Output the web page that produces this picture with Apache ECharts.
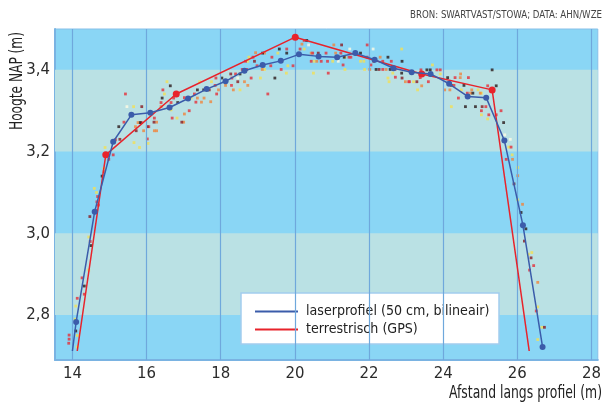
<!DOCTYPE html>
<html>
<head>
<meta charset="utf-8">
<script src="https://cdn.jsdelivr.net/npm/echarts@6/dist/echarts.min.js"></script>
<style>
html,body{margin:0;padding:0;background:#fff;}
#chart{width:604px;height:403px;}
</style>
</head>
<body>
<div id="chart"></div>
<script>
// ---- data ----
const xTicks = [14, 16, 18, 20, 22, 24, 26, 28];
const yTicks = [2.8, 3.0, 3.2, 3.4];
const paleBands = [[2.8, 3.0], [3.2, 3.4]];

const laserName = 'laserprofiel (50 cm, bilineair)';
const gpsName = 'terrestrisch (GPS)';
const sourceText = 'BRON: SWARTVAST/STOWA; DATA: AHN/WZE';
const yTitle = 'Hoogte NAP (m)';
const xTitle = 'Afstand langs profiel (m)';

// laser profile (blue), first point is the line start without a marker
const laser = [
  [14.0, 2.712], [14.1, 2.783], [14.6, 3.053], [15.1, 3.224], [15.59, 3.29], [16.1, 3.295],
  [16.62, 3.308], [17.12, 3.33], [17.62, 3.353], [18.13, 3.372], [18.64, 3.398], [19.13, 3.412],
  [19.62, 3.422], [20.11, 3.438], [20.64, 3.433], [21.14, 3.431], [21.63, 3.441], [22.15, 3.425],
  [22.66, 3.404], [23.15, 3.394], [23.66, 3.39], [24.16, 3.366], [24.66, 3.335], [25.16, 3.332],
  [25.65, 3.227], [26.15, 3.02], [26.68, 2.722]
];
// terrestrial GPS (red), first and last points are line ends without markers
const gps = [
  [14.13, 2.712], [14.9, 3.192], [16.8, 3.341], [20.01, 3.48], [23.42, 3.39], [25.32, 3.351], [26.32, 2.712]
];

// raw laser points by colour
const ptsBlack = [
  [14.09, 2.761], [14.32, 2.871], [14.5, 2.97], [14.8, 3.14], [14.96, 3.192], [15.25, 3.261],
  [15.83, 3.271], [16.42, 3.331], [16.64, 3.361], [16.84, 3.32], [17.37, 3.351], [17.54, 3.351],
  [18.03, 3.38], [18.52, 3.39], [19.16, 3.41], [19.13, 3.441], [19.58, 3.451], [19.78, 3.441],
  [19.46, 3.38], [20.32, 3.472], [21.63, 3.441], [21.77, 3.441], [21.33, 3.431], [22.51, 3.431],
  [22.89, 3.421], [22.19, 3.401], [22.57, 3.401], [22.88, 3.392], [23.56, 3.4], [23.65, 3.4],
  [25.32, 3.4], [24.12, 3.381], [24.56, 3.362], [25.43, 3.361], [24.8, 3.343], [24.6, 3.31],
  [24.87, 3.31], [25.63, 3.271], [26.1, 3.051], [26.23, 3.011]
];
const ptsDarkRed = [
  [14.47, 3.041], [15.28, 3.23], [15.87, 3.31], [15.72, 3.251], [16.02, 3.261], [16.2, 3.272],
  [16.95, 3.272], [17.69, 3.351], [18.27, 3.39], [18.46, 3.371], [18.91, 3.421], [21.26, 3.461],
  [20.63, 3.441], [22.13, 3.421], [22.27, 3.401], [22.89, 3.38], [23.29, 3.371], [24.22, 3.362],
  [25.05, 3.31], [25.91, 3.121], [26.19, 2.981], [26.37, 2.94], [26.73, 2.77]
];
const ptsRed = [
  [13.91, 2.751], [13.91, 2.741], [13.9, 2.731], [14.13, 2.841], [14.32, 2.851], [14.26, 2.891],
  [14.48, 2.98], [14.63, 3.055], [14.7, 3.069], [14.66, 3.077], [14.68, 3.09], [14.98, 3.181],
  [15.1, 3.192], [15.43, 3.341], [15.39, 3.272], [15.16, 3.229], [15.86, 3.271], [16.06, 3.261],
  [16.02, 3.231], [16.21, 3.282], [16.44, 3.351], [16.39, 3.32], [16.66, 3.32], [16.73, 3.331],
  [17.02, 3.332], [17.33, 3.321], [16.69, 3.282], [17.15, 3.3], [17.29, 3.341], [18.87, 3.431],
  [18.67, 3.421], [19.38, 3.431], [19.78, 3.451], [19.95, 3.41], [19.63, 3.401], [19.35, 3.41],
  [18.98, 3.41], [18.82, 3.38], [18.7, 3.401], [18.58, 3.401], [18.4, 3.39], [19.27, 3.341],
  [17.87, 3.38], [18.3, 3.38], [18.29, 3.362], [17.85, 3.362], [17.89, 3.341], [20.14, 3.451],
  [20.25, 3.472], [20.48, 3.441], [20.84, 3.441], [21.24, 3.441], [21.46, 3.431], [21.51, 3.431],
  [20.44, 3.421], [20.71, 3.421], [20.88, 3.421], [21.95, 3.431], [21.95, 3.461], [22.05, 3.412],
  [22.37, 3.421], [22.6, 3.421], [21.3, 3.412], [22.37, 3.401], [22.7, 3.401], [20.9, 3.392],
  [22.71, 3.382], [23.07, 3.371], [23.4, 3.4], [23.83, 3.4], [23.92, 3.4], [23.09, 3.371],
  [23.38, 3.381], [23.6, 3.371], [24.32, 3.381], [24.68, 3.381], [24.29, 3.362], [25.2, 3.361],
  [24.65, 3.343], [24.41, 3.331], [25.15, 3.31], [25.03, 3.3], [25.23, 3.29], [25.43, 3.29],
  [25.56, 3.3], [25.83, 3.211], [25.7, 3.181], [26.44, 2.921], [26.33, 2.91], [26.51, 2.81]
];
const ptsOrange = [
  [14.85, 3.151], [15.7, 3.261], [15.77, 3.271], [15.92, 3.251], [16.27, 3.272], [16.21, 3.251],
  [16.27, 3.251], [16.39, 3.31], [17.48, 3.321], [17.0, 3.272], [17.02, 3.292], [17.37, 3.331],
  [18.94, 3.442], [19.18, 3.441], [19.12, 3.401], [18.13, 3.362], [17.94, 3.351], [18.34, 3.351],
  [18.64, 3.371], [18.73, 3.362], [17.55, 3.331], [17.73, 3.322], [20.19, 3.463], [21.05, 3.461],
  [20.44, 3.441], [21.1, 3.441], [20.59, 3.421], [22.3, 3.431], [22.02, 3.401], [22.46, 3.401],
  [22.98, 3.371], [24.47, 3.39], [24.46, 3.381], [23.42, 3.361], [24.04, 3.351], [24.18, 3.351],
  [24.77, 3.351], [24.74, 3.343], [25.0, 3.343], [25.87, 3.181], [26.01, 3.141], [26.14, 3.071],
  [26.55, 2.88]
];
const ptsYellow = [
  [14.13, 2.722], [14.13, 2.75], [14.07, 2.79], [14.09, 2.822], [14.44, 2.91], [14.44, 2.991],
  [14.65, 3.1], [14.59, 3.11], [14.85, 3.159], [14.88, 3.21], [15.66, 3.222], [15.81, 3.21],
  [16.04, 3.22], [15.65, 3.31], [16.55, 3.371], [16.48, 3.341], [17.2, 3.331], [16.66, 3.302],
  [16.82, 3.282], [17.43, 3.371], [18.76, 3.431], [18.73, 3.421], [19.54, 3.441], [19.65, 3.421],
  [19.81, 3.41], [19.77, 3.392], [19.18, 3.401], [19.07, 3.38], [17.75, 3.371], [17.64, 3.351],
  [18.52, 3.351], [20.25, 3.451], [22.88, 3.451], [21.35, 3.431], [20.52, 3.421], [21.02, 3.421],
  [21.77, 3.421], [21.86, 3.421], [21.35, 3.401], [21.88, 3.401], [20.5, 3.392], [22.64, 3.392],
  [22.51, 3.38], [22.54, 3.371], [23.71, 3.412], [23.92, 3.39], [23.2, 3.371], [23.31, 3.351],
  [24.49, 3.351], [24.94, 3.351], [25.03, 3.343], [24.22, 3.31], [25.03, 3.29], [25.2, 3.28],
  [25.77, 3.211], [25.86, 3.192], [26.01, 3.161], [26.01, 3.082], [26.3, 2.949], [26.39, 2.953],
  [26.55, 2.82], [26.66, 2.77], [26.55, 2.74], [26.66, 2.721]
];
const ptsWhite = [
  [15.47, 3.31], [18.46, 3.38], [20.37, 3.461], [21.48, 3.451], [22.11, 3.451], [21.17, 3.421],
  [25.66, 3.241], [25.81, 3.23]
];

// ---- font selection (narrowest installed family) ----
const ctx = document.createElement('canvas').getContext('2d');
function hasFont(name) {
  const t = 'abcdefghijklmnopqrstuvwxyz ABCDEFGHIJ 0123456789';
  ctx.font = '40px monospace'; const w0 = ctx.measureText(t).width;
  ctx.font = '40px "' + name + '", monospace'; const w1 = ctx.measureText(t).width;
  return Math.abs(w0 - w1) > 0.5;
}
const candidates = ['Liberation Sans Narrow', 'DejaVu Sans Condensed', 'Roboto', 'Lato', 'Noto Sans', 'Open Sans'];
const FAM = candidates.find(hasFont) || 'sans-serif';
const FONT = '"' + FAM + '", sans-serif';
function textW(text, size) {
  ctx.font = size + 'px ' + FONT;
  return ctx.measureText(text).width;
}
function fitSize(text, targetW, maxSize) {
  return Math.min(maxSize, Math.round(100 * targetW / textW(text, 100) * 10) / 10);
}
function squeeze(text, size, targetW) {
  return Math.min(1, targetW / textW(text, size));
}
const tickSize = fitSize('14', 19, 17);
const legendSize = fitSize(laserName, 184, 16);
const yTitleSize = 18, xTitleSize = 17, sourceSize = 9.6;

// ---- chart ----
const chart = echarts.init(document.getElementById('chart'), null, {renderer: 'canvas'});

function pointSeries(data, color) {
  return {
    type: 'scatter', data: data, symbol: 'rect', symbolSize: 2.8, z: 3, silent: true,
    itemStyle: {color: color}
  };
}

const laserData = laser.map((p, i) => i === 0 ? {value: p, symbol: 'none'} : p);
const gpsData = gps.map((p, i) => (i === 0 || i === gps.length - 1) ? {value: p, symbol: 'none'} : p);

chart.setOption({
  animation: false,
  textStyle: {fontFamily: FONT},
  grid: {left: 55, top: 29, right: 2, bottom: 43, show: true, backgroundColor: '#8ad6f5',
         borderColor: '#86bfe8', borderWidth: 1},
  xAxis: {
    type: 'value', min: 13.53, max: 28.17,
    axisLine: {lineStyle: {color: '#7ab3e2', width: 2}},
    axisTick: {show: false},
    splitLine: {show: false},
    axisLabel: {customValues: xTicks, color: '#2b2b2b', fontSize: tickSize, margin: 5, fontFamily: FONT}
  },
  yAxis: {
    type: 'value', min: 2.69, max: 3.5,
    axisLine: {show: true, lineStyle: {color: '#7ab3e2', width: 2}},
    axisTick: {show: false},
    splitLine: {show: false},
    axisLabel: {customValues: yTicks, color: '#2b2b2b', fontSize: tickSize, margin: 5, fontFamily: FONT,
                formatter: v => v.toFixed(1).replace('.', ',')}
  },
  legend: {
    data: [laserName, gpsName], orient: 'vertical', left: 255, top: 303, padding: 0,
    itemWidth: 43, itemHeight: 2, itemGap: 1, icon: 'rect', selectedMode: false,
    textStyle: {fontSize: legendSize, lineHeight: 17, color: '#222', fontFamily: FONT, padding: [0, 0, 0, 3]}
  },
  graphic: [
    {type: 'rect', z: 2, shape: {x: 241, y: 293, width: 258, height: 51},
     style: {fill: '#ffffff', stroke: '#a3cdee', lineWidth: 1.5}},
    {type: 'text', right: 2, top: 10, scaleX: squeeze(sourceText, sourceSize, 193),
     style: {text: sourceText, fill: '#444', font: sourceSize + 'px ' + FONT}},
    {type: 'text', left: 8, top: 32, rotation: Math.PI / 2, scaleX: squeeze(yTitle, yTitleSize, 98),
     style: {text: yTitle, fill: '#222', font: yTitleSize + 'px ' + FONT}},
    {type: 'text', right: 2, top: 385, scaleX: squeeze(xTitle, xTitleSize, 153),
     style: {text: xTitle, fill: '#222', font: xTitleSize + 'px ' + FONT}}
  ],
  series: [
    {type: 'line', data: [], z: 1, silent: true,
     markArea: {silent: true, itemStyle: {color: '#bae1e4'},
       data: paleBands.map(b => [{yAxis: b[0]}, {yAxis: b[1]}])}},
    {type: 'line', data: [], z: 2, silent: true,
     markLine: {silent: true, symbol: ['none', 'none'], label: {show: false},
       lineStyle: {color: '#6fa8dc', width: 1.2, type: 'solid'},
       data: xTicks.map(v => ({xAxis: v}))}},
    pointSeries(ptsWhite, '#fffbe3'),
    pointSeries(ptsYellow, '#f3e055'),
    pointSeries(ptsOrange, '#f0843c'),
    pointSeries(ptsRed, '#e5303a'),
    pointSeries(ptsDarkRed, '#8a1c22'),
    pointSeries(ptsBlack, '#2a1a1a'),
    {name: gpsName, type: 'line', data: gpsData, z: 5, symbol: 'circle', symbolSize: 7,
     lineStyle: {color: '#e8232b', width: 1.5}, itemStyle: {color: '#e8232b'}},
    {name: laserName, type: 'line', data: laserData, z: 6, symbol: 'circle', symbolSize: 6,
     lineStyle: {color: '#3b5caa', width: 1.5}, itemStyle: {color: '#3b5caa'}}
  ]
});
</script>
</body>
</html>
